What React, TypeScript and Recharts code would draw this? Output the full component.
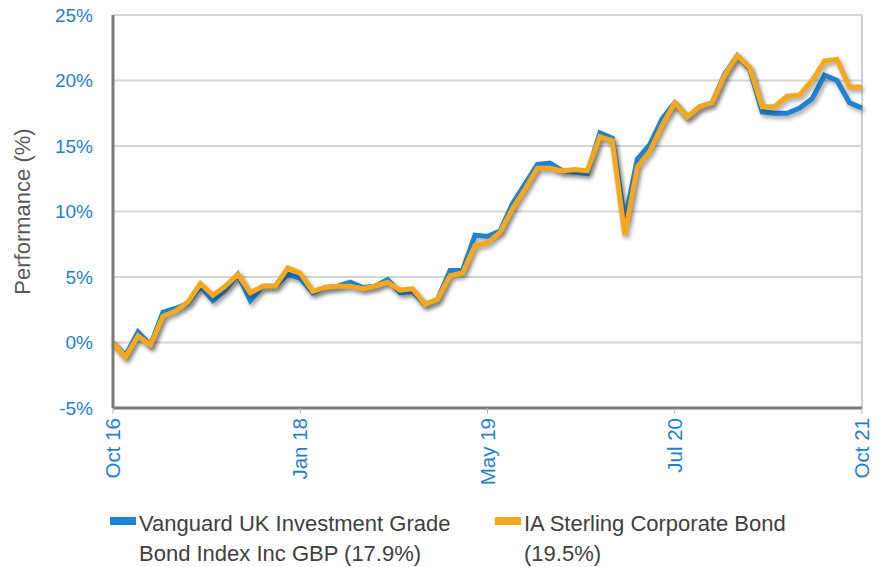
import React from "react";
import {
  LineChart,
  Line,
  XAxis,
  YAxis,
  CartesianGrid,
  ReferenceLine,
} from "recharts";

// monthly points, Oct 16 .. Oct 21 (61 months)
const vanguard = [
  0, -1.0, 0.8, -0.2, 2.3, 2.6, 3.0, 4.3, 3.2, 4.0,
  5.2, 3.2, 4.3, 4.3, 5.2, 4.9, 3.8, 4.2, 4.3, 4.6,
  4.2, 4.3, 4.8, 3.8, 3.9, 2.9, 3.3, 5.5, 5.5, 8.2,
  8.1, 8.5, 10.6, 12.1, 13.6, 13.7, 13.1, 13.0, 12.9, 16.0,
  15.6, 9.3, 14.0, 15.1, 17.1, 18.3, 17.2, 18.0, 18.3, 20.5,
  21.9, 20.9, 17.6, 17.5, 17.5, 17.9, 18.6, 20.4, 20.0, 18.3,
  17.9,
];
const sector = [
  0, -1.1, 0.5, -0.2, 2.0, 2.4, 3.1, 4.5, 3.6, 4.3,
  5.2, 3.8, 4.3, 4.3, 5.7, 5.3, 3.9, 4.2, 4.3, 4.3,
  4.1, 4.3, 4.6, 4.0, 4.1, 2.9, 3.3, 5.1, 5.3, 7.4,
  7.6, 8.4, 10.2, 11.7, 13.3, 13.3, 13.1, 13.2, 13.1, 15.7,
  15.4, 8.2, 13.4, 14.6, 16.6, 18.3, 17.2, 18.0, 18.3, 20.4,
  21.9, 21.0, 18.0, 18.0, 18.8, 18.9, 20.0, 21.5, 21.6, 19.5,
  19.5,
];
const tickIndex = [0, 15, 30, 45, 60];
const tickLabels = ["Oct 16", "Jan 18", "May 19", "Jul 20", "Oct 21"];
const yTicks = [-5, 0, 5, 10, 15, 20, 25];
const seriesNames = [
  "Vanguard UK Investment Grade Bond Index Inc GBP (17.9%)",
  "IA Sterling Corporate Bond (19.5%)",
];

const BLUE = "#1f82d2";
const ORANGE = "#f5a81c";
const FONT = "'Liberation Sans', Arial, sans-serif";

const data = vanguard.map((v, i) => ({ i, vanguard: v, sector: sector[i] }));

const XTick = (props: any) => {
  const { x, y, payload } = props;
  const label = tickLabels[tickIndex.indexOf(payload.value)];
  return (
    <text
      x={x}
      y={y}
      dy={7}
      transform={`rotate(-90 ${x} ${y})`}
      textAnchor="end"
      fill="#1f7fd3"
      fontSize={20.5}
      fontFamily={FONT}
    >
      {label}
    </text>
  );
};

export default function App() {
  return (
    <div style={{ position: "relative", width: 879, height: 567, fontFamily: FONT }}>
      <style>{`body{margin:0} .recharts-line-curve{filter:drop-shadow(2px 3px 2px rgba(0,0,0,0.35));}`}</style>
      <LineChart
        width={879}
        height={567}
        data={data}
        margin={{ top: 15, right: 17, left: 0, bottom: 0 }}
      >
        <CartesianGrid vertical={false} stroke="#d6d6d6" strokeWidth={2} />
        <ReferenceLine x={60} stroke="#d0d0d0" strokeWidth={2} />
        <XAxis
          type="number"
          dataKey="i"
          domain={[0, 60]}
          ticks={tickIndex}
          height={159}
          tick={<XTick />}
          tickSize={6}
          tickMargin={4}
          axisLine={{ stroke: "#7a7a7a", strokeWidth: 3 }}
          tickLine={{ stroke: "#b0b0b0" }}
        />
        <YAxis
          domain={[-5, 25]}
          ticks={yTicks}
          width={113}
          tickFormatter={(v: number) => `${v}%`}
          tick={{ fill: "#1f7fd3", fontSize: 19, fontFamily: FONT }}
          tickLine={false}
          tickSize={0}
          tickMargin={20}
          axisLine={{ stroke: "#7a7a7a", strokeWidth: 3 }}
          label={{
            value: "Performance (%)",
            angle: -90,
            position: "insideLeft",
            dx: 17,
            fill: "#595959",
            fontSize: 22,
            fontFamily: FONT,
            style: { textAnchor: "middle" },
          }}
        />
        <Line
          type="linear"
          dataKey="vanguard"
          stroke={BLUE}
          strokeWidth={5}
          dot={false}
          isAnimationActive={false}
        />
        <Line
          type="linear"
          dataKey="sector"
          stroke={ORANGE}
          strokeWidth={5}
          dot={false}
          isAnimationActive={false}
        />
      </LineChart>
      <div style={{ position: "absolute", left: 110, top: 509, display: "flex", color: "#404040", fontSize: 22, lineHeight: "30px" }}>
        {seriesNames.map((name, k) => (
          <div key={name} style={{ display: "flex", width: 385 }}>
            <div style={{ width: 26, height: 8, marginTop: 8, background: k === 0 ? BLUE : ORANGE, flex: "none" }} />
            <div style={{ width: 330, marginLeft: 3 }}>{name}</div>
          </div>
        ))}
      </div>
    </div>
  );
}
